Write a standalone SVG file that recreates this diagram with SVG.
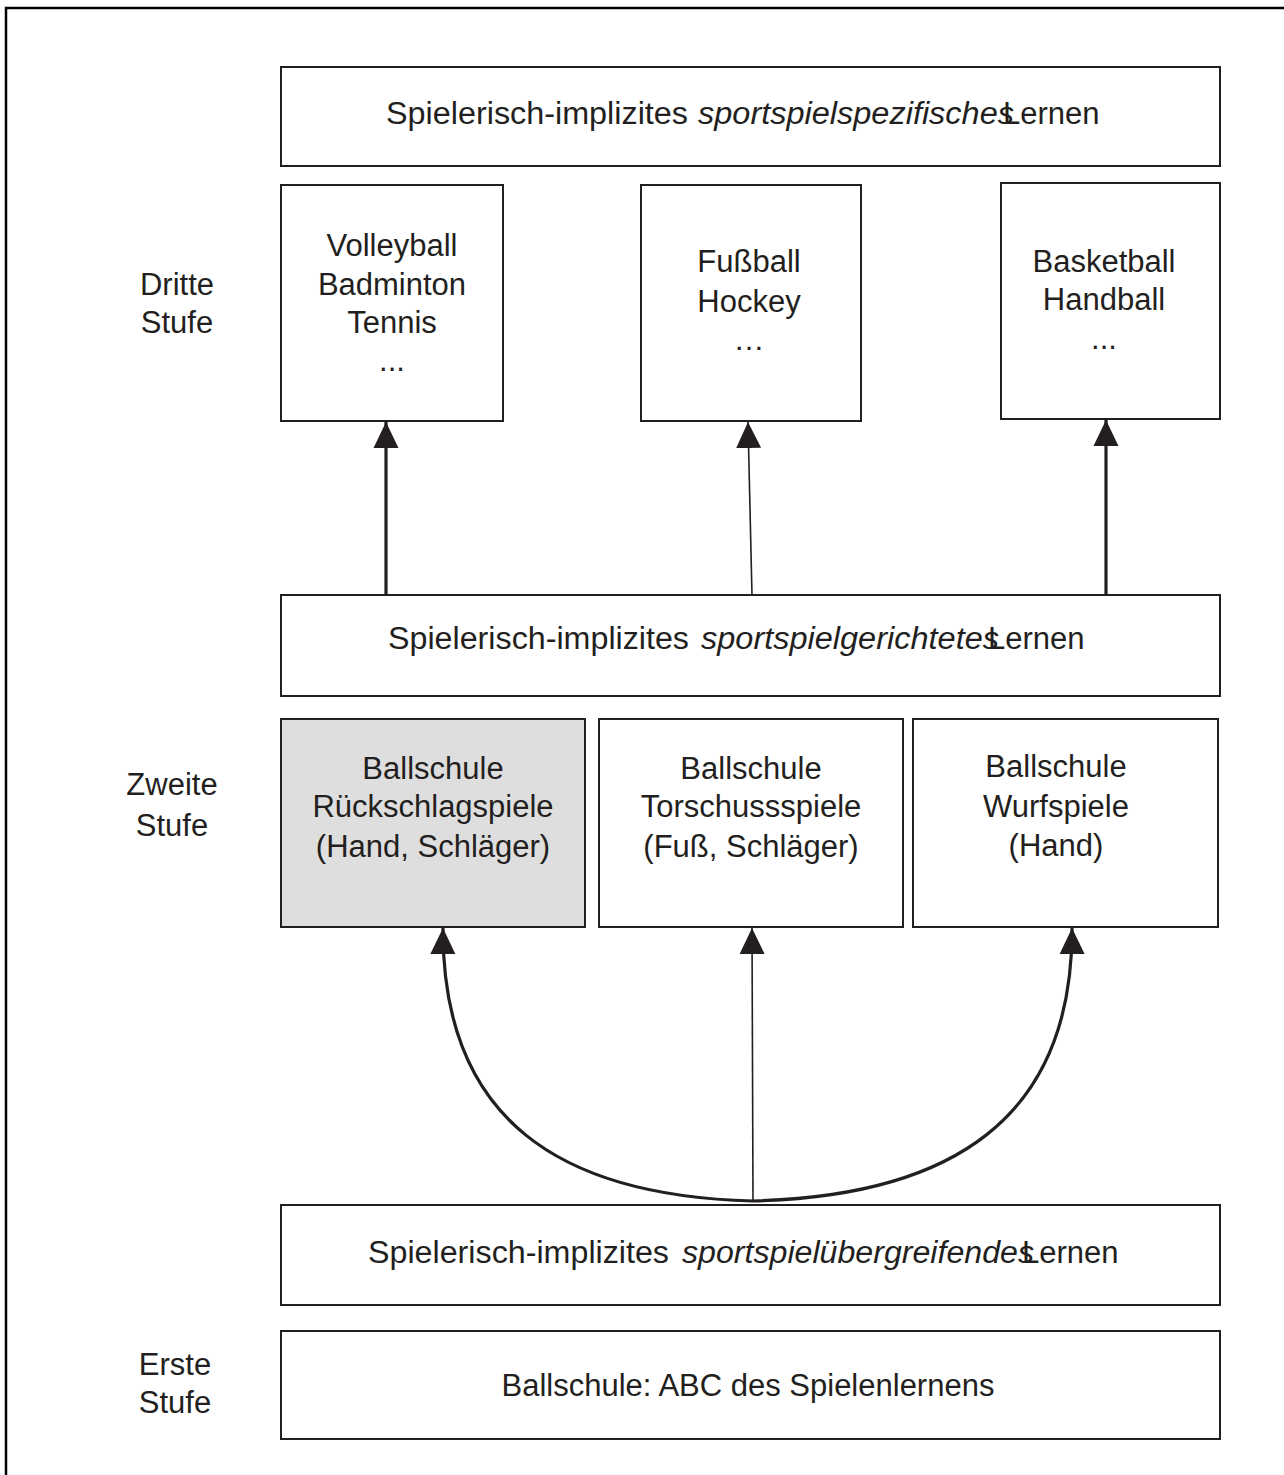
<svg xmlns="http://www.w3.org/2000/svg" width="1284" height="1475" viewBox="0 0 1284 1475">
<style>
.box{fill:#fff;stroke:#231f20;stroke-width:2}
.grey{fill:#dedede}
text{font-family:"Liberation Sans",Arial,sans-serif;font-size:31px;fill:#231f20}
.c{text-anchor:middle}
.it{font-style:italic}
.thick{fill:none;stroke:#231f20;stroke-width:3.2}
.thin{fill:none;stroke:#231f20;stroke-width:1.6}
</style>
<defs>
<marker id="ah" markerUnits="userSpaceOnUse" markerWidth="28" markerHeight="26" viewBox="0 0 28 26" refX="26" refY="13" orient="auto">
<path d="M26 13 L0 0.5 L0 25.5 Z" fill="#231f20"/>
</marker>
</defs>
<rect x="6" y="8" width="1300" height="1500" fill="none" stroke="#000" stroke-width="2.5"/>

<g id="n-top">
<rect class="box" x="281" y="67" width="939" height="99"/>
<text x="386" y="124" textLength="302" lengthAdjust="spacingAndGlyphs">Spielerisch-implizites</text>
<text class="it" x="698" y="124" textLength="316" lengthAdjust="spacingAndGlyphs">sportspielspezifisches</text>
<text x="1003" y="124">Lernen</text>
</g>
<g id="n-volley">
<rect class="box" x="281" y="185" width="222" height="236"/>
<text class="c" x="392" y="256">Volleyball</text>
<text class="c" x="392" y="295">Badminton</text>
<text class="c" x="392" y="333">Tennis</text>
<text class="c" x="392" y="371">...</text>
</g>
<g id="n-fussball">
<rect class="box" x="641" y="185" width="220" height="236"/>
<text class="c" x="749" y="272">Fußball</text>
<text class="c" x="749" y="312">Hockey</text>
<text class="c" x="749" y="350">…</text>
</g>
<g id="n-basket">
<rect class="box" x="1001" y="183" width="219" height="236"/>
<text class="c" x="1104" y="272">Basketball</text>
<text class="c" x="1104" y="310">Handball</text>
<text class="c" x="1104" y="349">...</text>
</g>
<g id="n-gerichtet">
<rect class="box" x="281" y="595" width="939" height="101"/>
<text x="388" y="649" textLength="301" lengthAdjust="spacingAndGlyphs">Spielerisch-implizites</text>
<text class="it" x="701" y="649" textLength="298" lengthAdjust="spacingAndGlyphs">sportspielgerichtetes</text>
<text x="988" y="649">Lernen</text>
</g>
<g id="n-rueck">
<rect class="box grey" x="281" y="719" width="304" height="208"/>
<text class="c" x="433" y="779">Ballschule</text>
<text class="c" x="433" y="817">Rückschlagspiele</text>
<text class="c" x="433" y="857">(Hand, Schläger)</text>
</g>
<g id="n-tor">
<rect class="box" x="599" y="719" width="304" height="208"/>
<text class="c" x="751" y="779">Ballschule</text>
<text class="c" x="751" y="817">Torschussspiele</text>
<text class="c" x="751" y="857">(Fuß, Schläger)</text>
</g>
<g id="n-wurf">
<rect class="box" x="913" y="719" width="305" height="208"/>
<text class="c" x="1056" y="777">Ballschule</text>
<text class="c" x="1056" y="817">Wurfspiele</text>
<text class="c" x="1056" y="856">(Hand)</text>
</g>
<g id="n-uebergreifend">
<rect class="box" x="281" y="1205" width="939" height="100"/>
<text x="368" y="1263" textLength="301" lengthAdjust="spacingAndGlyphs">Spielerisch-implizites</text>
<text class="it" x="682" y="1263" textLength="352" lengthAdjust="spacingAndGlyphs">sportspielübergreifendes</text>
<text x="1022" y="1263">Lernen</text>
</g>
<g id="n-abc">
<rect class="box" x="281" y="1331" width="939" height="108"/>
<text class="c" x="748" y="1396">Ballschule: ABC des Spielenlernens</text>
</g>
<g id="labels">
<text class="c" x="177" y="295">Dritte</text>
<text class="c" x="177" y="333">Stufe</text>
<text class="c" x="172" y="795">Zweite</text>
<text class="c" x="172" y="836">Stufe</text>
<text class="c" x="175" y="1375">Erste</text>
<text class="c" x="175" y="1413">Stufe</text>
</g>
<g id="connectors">
<path class="thick" d="M386 595 L386 422" marker-end="url(#ah)"/>
<path class="thin" d="M752 595 L748 422" marker-end="url(#ah)"/>
<path class="thick" d="M1106 595 L1106 420" marker-end="url(#ah)"/>
<path class="thin" d="M753 1201 L752 928" marker-end="url(#ah)"/>
<path class="thick" d="M753 1201 C560 1196 442 1120 443 928" marker-end="url(#ah)"/>
<path class="thick" d="M753 1201 C950 1196 1073 1120 1072 928" marker-end="url(#ah)"/>
</g>
</svg>
